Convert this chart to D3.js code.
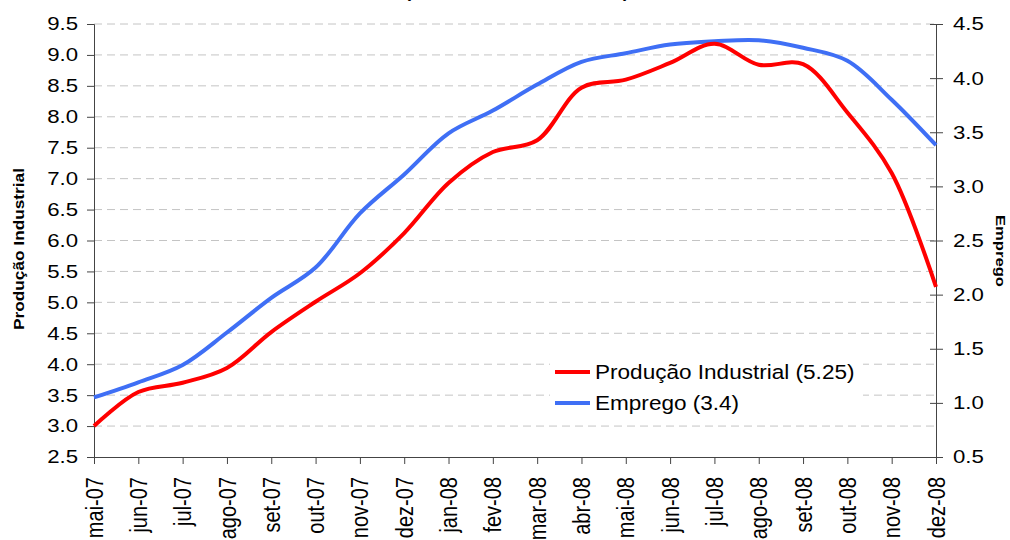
<!DOCTYPE html>
<html>
<head>
<meta charset="utf-8">
<script src="https://cdn.jsdelivr.net/npm/d3@7"></script>
<style>
  body { margin: 0; background: #fff; }
  text { font-family: Arial, "Liberation Sans", sans-serif; }
</style>
</head>
<body>
<div id="chart"></div>
<script>
// data
let months = ["mai-07","jun-07","jul-07","ago-07","set-07","out-07","nov-07","dez-07",
  "jan-08","fev-08","mar-08","abr-08","mai-08","jun-08","jul-08","ago-08","set-08",
  "out-08","nov-08","dez-08"];
let producao = [3.0, 3.55, 3.7, 3.94, 4.52, 5.01, 5.47, 6.12, 6.93, 7.43, 7.62, 8.47,
  8.6, 8.87, 9.18, 8.84, 8.85, 8.07, 7.09, 5.25];
let emprego = [1.05, 1.19, 1.35, 1.65, 1.97, 2.25, 2.75, 3.11, 3.49, 3.7, 3.94, 4.15,
  4.23, 4.31, 4.34, 4.35, 4.28, 4.16, 3.8, 3.38];
let leftTicks = d3.range(2.5, 9.51, 0.5);
let rightTicks = d3.range(0.5, 4.51, 0.5);
let legendNames = ["Produção Industrial (5.25)", "Emprego (3.4)"];

let svgWidth = 1010;
let svgHeight = 540;
let margin = { top: 24, right: 74, bottom: 83, left: 94 };
let width = svgWidth - margin.left - margin.right;
let height = svgHeight - margin.top - margin.bottom;

// the original text is drawn wider than plain Arial
function stretch(sel, k) {
  sel.each(function () {
    let w = this.getComputedTextLength();
    d3.select(this)
      .attr("textLength", w * k)
      .attr("lengthAdjust", "spacingAndGlyphs");
  });
}

let svg = d3.select("#chart")
  .append("svg")
  .attr("width", svgWidth)
  .attr("height", svgHeight);

// title, mostly cut off at the top edge
svg.append("text")
  .attr("x", 517)
  .attr("y", -3)
  .attr("text-anchor", "middle")
  .attr("font-size", 18)
  .attr("font-weight", "bold")
  .text("(acumulado em 12 meses)");

let g = svg.append("g")
  .attr("transform", `translate(${margin.left}, ${margin.top})`);

let x = d3.scalePoint().domain(months).range([0, width]);
let yLeft = d3.scaleLinear().domain([2.5, 9.5]).range([height, 0]);
let yRight = d3.scaleLinear().domain([0.5, 4.5]).range([height, 0]);

// grid lines
g.append("g")
  .selectAll("line")
  .data(leftTicks.filter(d => d > 2.5))
  .enter()
  .append("line")
  .attr("x1", 0)
  .attr("x2", width)
  .attr("y1", d => yLeft(d))
  .attr("y2", d => yLeft(d))
  .attr("stroke", "#c4c4c4")
  .attr("stroke-width", 1)
  .attr("stroke-dasharray", "8,5");

// legend background (hides grid under it)
let legend = g.append("g").attr("transform", "translate(456, 316)");
legend.append("rect")
  .attr("x", 0).attr("y", 0)
  .attr("width", 313).attr("height", 74)
  .attr("fill", "#fff");

// axes
let axisColor = "#444";
let leftAxis = g.append("g")
  .call(d3.axisLeft(yLeft).tickValues(leftTicks).tickFormat(d3.format(".1f")).tickSize(7).tickPadding(9));
let rightAxis = g.append("g")
  .attr("transform", `translate(${width}, 0)`)
  .call(d3.axisRight(yRight).tickValues(rightTicks).tickFormat(d3.format(".1f")).tickSize(7).tickPadding(10));
rightAxis.selectAll(".tick line").attr("x1", -6);
let bottomAxis = g.append("g")
  .attr("transform", `translate(0, ${height})`)
  .call(d3.axisBottom(x).tickSize(7).tickPadding(8));

[leftAxis, rightAxis, bottomAxis].forEach(a => {
  a.select(".domain").attr("stroke", axisColor);
  a.selectAll(".tick line").attr("stroke", axisColor);
  a.selectAll("text")
    .attr("font-size", 18.5)
    .attr("fill", "#000")
    .attr("font-family", "Arial, 'Liberation Sans', sans-serif");
});
stretch(leftAxis.selectAll("text"), 1.2);
stretch(rightAxis.selectAll("text"), 1.2);

bottomAxis.selectAll("text")
  .attr("font-size", 20)
  .attr("transform", "rotate(-90) scale(1, 1.15)")
  .attr("text-anchor", "end")
  .attr("x", -20)
  .attr("y", 0)
  .attr("dy", "0.35em");

// lines
let lineLeft = d3.line()
  .x((d, i) => x(months[i]))
  .y(d => yLeft(d))
  .curve(d3.curveCatmullRom.alpha(0.5));
let lineRight = d3.line()
  .x((d, i) => x(months[i]))
  .y(d => yRight(d))
  .curve(d3.curveCatmullRom.alpha(0.5));

g.append("path")
  .datum(emprego)
  .attr("d", lineRight)
  .attr("fill", "none")
  .attr("stroke", "#3f6ff5")
  .attr("stroke-width", 4);

g.append("path")
  .datum(producao)
  .attr("d", lineLeft)
  .attr("fill", "none")
  .attr("stroke", "#ff0000")
  .attr("stroke-width", 4);

// legend items
let legendColors = ["#ff0000", "#3f6ff5"];
legendNames.forEach((name, i) => {
  legend.append("line")
    .attr("x1", 5).attr("x2", 40)
    .attr("y1", 32 + i * 31).attr("y2", 32 + i * 31)
    .attr("stroke", legendColors[i])
    .attr("stroke-width", 4);
  let t = legend.append("text")
    .attr("x", 45)
    .attr("y", 32 + i * 31)
    .attr("dy", "0.35em")
    .attr("font-size", 20.5)
    .text(name);
  stretch(t, 1.1);
});

// axis titles
svg.append("text")
  .attr("transform", "translate(24, 249) rotate(-90)")
  .attr("text-anchor", "middle")
  .attr("font-size", 14)
  .attr("font-weight", "bold")
  .attr("textLength", 162)
  .attr("lengthAdjust", "spacingAndGlyphs")
  .text("Produção Industrial");

svg.append("text")
  .attr("transform", "translate(996, 251) rotate(90)")
  .attr("text-anchor", "middle")
  .attr("font-size", 13.5)
  .attr("font-weight", "bold")
  .attr("textLength", 72)
  .attr("lengthAdjust", "spacingAndGlyphs")
  .text("Emprego");
</script>
</body>
</html>
